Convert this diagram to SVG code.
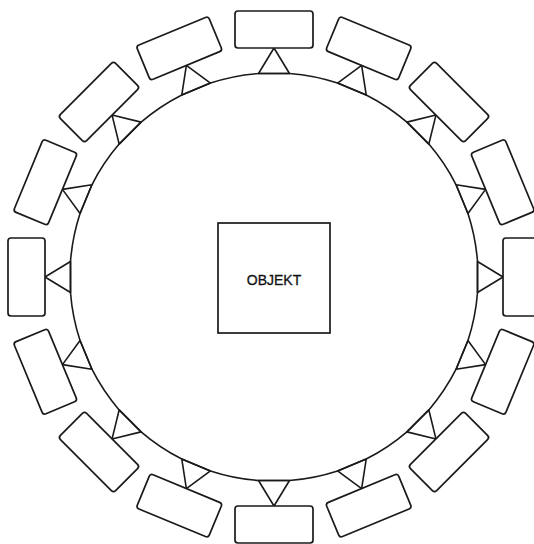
<svg xmlns="http://www.w3.org/2000/svg" width="534" height="544" viewBox="0 0 534 544">
<style>
.ln{fill:none;stroke:#1a1a1a;stroke-width:1.6;stroke-linejoin:round}
.bx{fill:#fff;stroke:#1a1a1a;stroke-width:1.7}
.tx{font-family:"Liberation Sans",Arial,sans-serif;font-size:14px;fill:#111;stroke:#111;stroke-width:0.3;text-anchor:middle}
</style>
<defs>
<g id="station">
<polygon class="ln" points="258.5,73.5 289.5,73.5 274,48"/>
<rect class="bx" x="235" y="11" width="78" height="37" rx="3"/>
</g>
</defs>
<rect width="534" height="544" fill="#fff"/>
<g id="ring">
<path class="ln" d="M258.48,73.49 L289.52,73.49 A204.1,204.1 0 0 1 337.54,83.04 L366.22,94.92 A204.1,204.1 0 0 1 406.92,122.12 L428.88,144.08 A204.1,204.1 0 0 1 456.08,184.78 L467.96,213.46 A204.1,204.1 0 0 1 477.51,261.48 L477.51,292.52 A204.1,204.1 0 0 1 467.96,340.54 L456.08,369.22 A204.1,204.1 0 0 1 428.88,409.92 L406.92,431.88 A204.1,204.1 0 0 1 366.22,459.08 L337.54,470.96 A204.1,204.1 0 0 1 289.52,480.51 L258.48,480.51 A204.1,204.1 0 0 1 210.46,470.96 L181.78,459.08 A204.1,204.1 0 0 1 141.08,431.88 L119.12,409.92 A204.1,204.1 0 0 1 91.92,369.22 L80.04,340.54 A204.1,204.1 0 0 1 70.49,292.52 L70.49,261.48 A204.1,204.1 0 0 1 80.04,213.46 L91.92,184.78 A204.1,204.1 0 0 1 119.12,144.08 L141.08,122.12 A204.1,204.1 0 0 1 181.78,94.92 L210.46,83.04 A204.1,204.1 0 0 1 258.48,73.49 Z"/>
</g>
<g id="connectors">
<g id="s0"><use href="#station" transform="rotate(0 274 277)"/></g>
<g id="s1"><use href="#station" transform="rotate(22.5 274 277)"/></g>
<g id="s2"><use href="#station" transform="rotate(45 274 277)"/></g>
<g id="s3"><use href="#station" transform="rotate(67.5 274 277)"/></g>
<g id="s4"><use href="#station" transform="rotate(90 274 277)"/></g>
<g id="s5"><use href="#station" transform="rotate(112.5 274 277)"/></g>
<g id="s6"><use href="#station" transform="rotate(135 274 277)"/></g>
<g id="s7"><use href="#station" transform="rotate(157.5 274 277)"/></g>
<g id="s8"><use href="#station" transform="rotate(180 274 277)"/></g>
<g id="s9"><use href="#station" transform="rotate(202.5 274 277)"/></g>
<g id="s10"><use href="#station" transform="rotate(225 274 277)"/></g>
<g id="s11"><use href="#station" transform="rotate(247.5 274 277)"/></g>
<g id="s12"><use href="#station" transform="rotate(270 274 277)"/></g>
<g id="s13"><use href="#station" transform="rotate(292.5 274 277)"/></g>
<g id="s14"><use href="#station" transform="rotate(315 274 277)"/></g>
<g id="s15"><use href="#station" transform="rotate(337.5 274 277)"/></g>
</g>
<g id="objekt">
<rect class="bx" x="218" y="223" width="112" height="110"/>
<text class="tx" x="274" y="285">OBJEKT</text>
</g>
</svg>
